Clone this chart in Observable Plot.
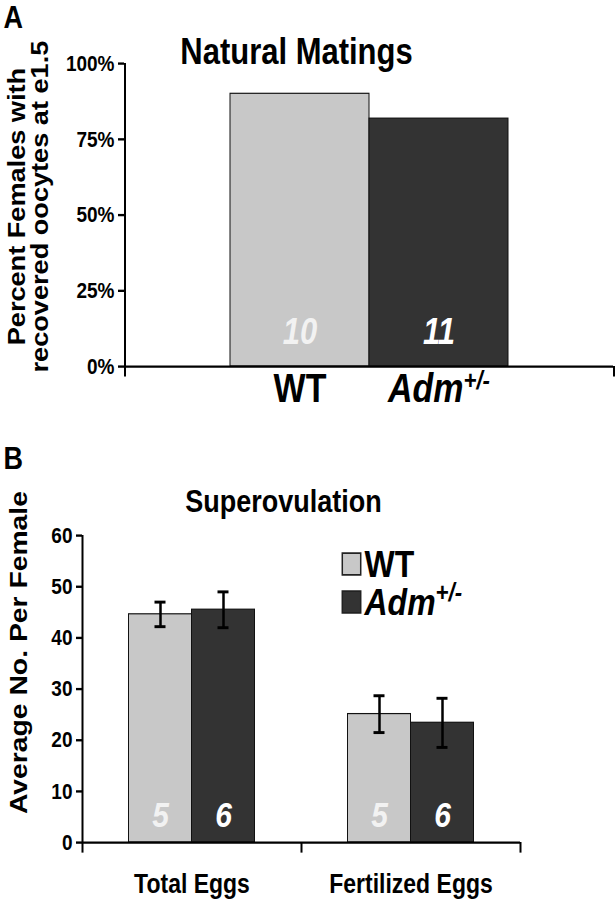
<!DOCTYPE html>
<html>
<head>
<meta charset="utf-8">
<script src="https://cdn.jsdelivr.net/npm/d3@7"></script>
<script src="https://cdn.jsdelivr.net/npm/@observablehq/plot@0.6"></script>
<style>
  body { margin: 0; background: #fff; }
  #root { width: 616px; }
  #root svg { display: block; }
</style>
</head>
<body>
<div id="root"></div>
<script>
// ---------- data: panel A (natural matings) ----------
const genotypes = ["WT", "Adm"];
const genotypeLabels = ["WT", "Adm+/-"];
const matingPercent = [0.90, 0.818];
const matingN = [10, 11];
const percentTicks = [0, 0.25, 0.5, 0.75, 1];

// ---------- data: panel B (superovulation) ----------
const eggCategories = ["Total Eggs", "Fertilized Eggs"];
const superMeanWT = [44.6, 25.1];
const superErrWT = [2.4, 3.6];
const superMeanAdm = [45.5, 23.4];
const superErrAdm = [3.5, 4.8];
const superNWT = [5, 5];
const superNAdm = [6, 6];
const countTicks = [0, 10, 20, 30, 40, 50, 60];

// ---------- layout ----------
const W = 616;
const k = 1.18;                       // vertical stretch of the original figure
const FONT = "'Liberation Sans', Arial, Helvetica, sans-serif";
const fills = {WT: "#c8c8c8", Adm: "#333333"};
const numFill = {WT: "#f2f2f2", Adm: "#ffffff"};
const baseStyle = {fontFamily: FONT, fontWeight: "bold", fontSize: "18px", color: "black", background: "white", overflow: "visible"};

function stretch(svg, H) {
  svg.setAttribute("preserveAspectRatio", "none");
  svg.setAttribute("height", H);
  svg.style.height = H + "px";
  svg.style.width = W + "px";
  svg.style.maxWidth = "none";
}
function superscript(svg) {
  svg.querySelectorAll("text").forEach(t => {
    if (t.textContent === "Adm+/-" && !t.querySelector("tspan")) {
      const fs = parseFloat(getComputedStyle(t).fontSize) || 30;
      t.textContent = "";
      const ns = "http://www.w3.org/2000/svg";
      const a = document.createElementNS(ns, "tspan");
      a.setAttribute("font-style", "italic");
      a.textContent = "Adm";
      const b = document.createElementNS(ns, "tspan");
      b.setAttribute("font-style", "italic");
      b.setAttribute("font-size", (fs * 0.74) + "px");
      b.setAttribute("dy", (-fs * 0.38) + "px");
      b.textContent = "+/-";
      t.appendChild(a); t.appendChild(b);
    }
  });
}

// ---------- panel A ----------
const A = {H: 410, left: 124, right: 613, top: 63, zero: 366, bar: 139};
const hA = A.H / k, topA = A.top / k, zeroA = A.zero / k;
const spanA = A.right - A.left;
const edgeA = spanA / 2 - A.bar / 2;   // band centre to frame edge
const dataA = genotypes.map((g, i) => ({g, v: matingPercent[i], n: matingN[i]}));

const plotA = Plot.plot({
  width: W, height: hA,
  marginLeft: A.left, marginRight: W - A.right, marginTop: topA, marginBottom: hA - zeroA,
  style: baseStyle,
  x: {domain: genotypes, paddingInner: 0, paddingOuter: (spanA / A.bar - 2) / 2, label: null},
  y: {domain: [0, 1], label: null},
  marks: [
    Plot.barY(dataA, {x: "g", y: "v", fill: d => fills[d.g], stroke: "#111", strokeWidth: 1}),
    Plot.text(dataA, {x: "g", frameAnchor: "bottom", text: d => String(d.n), dy: -(A.zero - 343) / k,
      lineAnchor: "bottom", fontSize: 31, fontStyle: "italic", fill: d => numFill[d.g]}),
    Plot.ruleY([0], {strokeWidth: 2}),
    Plot.ruleX([genotypes[0]], {x: d => d, dx: -edgeA, strokeWidth: 2}),
    Plot.axisY({ticks: percentTicks, tickFormat: d => `${Math.round(d * 100)}%`, tickSize: 6, tickPadding: 4, fontSize: 19, strokeWidth: 2, label: null}),
    Plot.axisX({ticks: [genotypes[0]], tickSize: 9, dx: -edgeA, fill: "none", strokeWidth: 2, label: null}),
    Plot.axisX({ticks: [genotypes[1]], tickSize: 9, dx: edgeA, fill: "none", strokeWidth: 2, label: null}),
    Plot.axisX({tickSize: 0, tickPadding: 6, fontSize: 34, label: null, tickFormat: g => genotypeLabels[genotypes.indexOf(g)]}),
    Plot.text(["Natural Matings"], {frameAnchor: "top", text: d => d, dx: 296 - (A.left + A.right) / 2,
      lineAnchor: "bottom", fontSize: 31}),
    Plot.text(["A"], {frameAnchor: "top-left", text: d => d, dx: 3 - A.left, dy: 27 / k - topA,
      lineAnchor: "bottom", textAnchor: "start", fontSize: 27}),
    Plot.text(["Percent Females with\nrecovered oocytes at e1.5"], {frameAnchor: "left", text: d => d, rotate: -90,
      dx: 28.5 - A.left, dy: 206 / k - (topA + zeroA) / 2, fontSize: 23, lineHeight: 1,
      textAnchor: "middle", lineAnchor: "middle"})
  ]
});
stretch(plotA, A.H);
superscript(plotA);
document.getElementById("root").appendChild(plotA);

// ---------- panel B ----------
const B = {H: 490, offset: 410, left: 82, right: 520, top: 535, zero: 842, bar: 63, cap: 11};
const hB = B.H / k, topB = (B.top - B.offset) / k, zeroB = (B.zero - B.offset) / k;
const spanB = B.right - B.left;
const bandB = spanB / eggCategories.length;
const half = B.bar / 2;
const dataWT = eggCategories.map((c, i) => ({c, m: superMeanWT[i], e: superErrWT[i], n: superNWT[i]}));
const dataAdm = eggCategories.map((c, i) => ({c, m: superMeanAdm[i], e: superErrAdm[i], n: superNAdm[i]}));
const barInset = (bandB - B.bar) / 2;
const capInset = (bandB - B.cap) / 2;
const py = y => (y - B.offset) / k;   // page y -> plot y

function series(data, key, dx) {
  return [
    Plot.barY(data, {x: "c", y: "m", dx, insetLeft: barInset, insetRight: barInset, fill: fills[key], stroke: "#111", strokeWidth: 1}),
    Plot.ruleX(data, {x: "c", y1: d => d.m - d.e, y2: d => d.m + d.e, dx, strokeWidth: 2.5}),
    Plot.tickY(data, {x: "c", y: d => d.m + d.e, dx, insetLeft: capInset, insetRight: capInset, strokeWidth: 2.5}),
    Plot.tickY(data, {x: "c", y: d => d.m - d.e, dx, insetLeft: capInset, insetRight: capInset, strokeWidth: 2.5}),
    Plot.text(data, {x: "c", frameAnchor: "bottom", text: d => String(d.n), dx, dy: -(B.zero - 826) / k,
      lineAnchor: "bottom", fontSize: 30, fontStyle: "italic", fill: numFill[key]})
  ];
}

// legend rows
const legendRows = [
  {key: "WT", label: genotypeLabels[0], box: 563.5, base: 576},
  {key: "Adm", label: genotypeLabels[1], box: 601.5, base: 614}
];
const legendMarks = legendRows.flatMap(r => [
  Plot.dot([r.key], {frameAnchor: "top-left", symbol: "square", r: 10.4,
    dx: 351 - B.left, dy: py(r.box) - topB, fill: fills[r.key], stroke: "#222", strokeWidth: 1.5}),
  Plot.text([r.label], {frameAnchor: "top-left", text: d => d, textAnchor: "start", lineAnchor: "bottom",
    dx: 364 - B.left, dy: py(r.base) - topB, fontSize: 32})
]);

const plotB = Plot.plot({
  width: W, height: hB,
  marginLeft: B.left, marginRight: W - B.right, marginTop: topB, marginBottom: hB - zeroB,
  style: baseStyle,
  x: {domain: eggCategories, paddingInner: 0, paddingOuter: 0, label: null},
  y: {domain: [0, 60], label: null},
  marks: [
    ...series(dataWT, "WT", -half),
    ...series(dataAdm, "Adm", half),
    Plot.ruleY([0], {strokeWidth: 2}),
    Plot.ruleX([eggCategories[0]], {x: d => d, dx: -bandB / 2, strokeWidth: 2}),
    Plot.axisY({ticks: countTicks, tickSize: 6, tickPadding: 4, fontSize: 19, strokeWidth: 2, label: null}),
    Plot.axisX({ticks: eggCategories, tickSize: 9, dx: -bandB / 2, fill: "none", strokeWidth: 2, label: null}),
    Plot.axisX({ticks: [eggCategories[1]], tickSize: 9, dx: bandB / 2, fill: "none", strokeWidth: 2, label: null}),
    Plot.axisX({tickSize: 0, tickPadding: 26, fontSize: 23, label: null}),
    Plot.text(["Superovulation"], {frameAnchor: "top", text: d => d, dx: 283 - (B.left + B.right) / 2,
      dy: py(511) - topB, lineAnchor: "bottom", fontSize: 27}),
    Plot.text(["B"], {frameAnchor: "top-left", text: d => d, dx: 3 - B.left, dy: py(468) - topB,
      lineAnchor: "bottom", textAnchor: "start", fontSize: 27}),
    Plot.text(["Average No. Per Female"], {frameAnchor: "left", text: d => d, rotate: -90,
      dx: 19 - B.left, dy: py(652) - (topB + zeroB) / 2, fontSize: 24, textAnchor: "middle", lineAnchor: "middle"}),
    ...legendMarks
  ]
});
stretch(plotB, B.H);
superscript(plotB);
document.getElementById("root").appendChild(plotB);
</script>
</body>
</html>
